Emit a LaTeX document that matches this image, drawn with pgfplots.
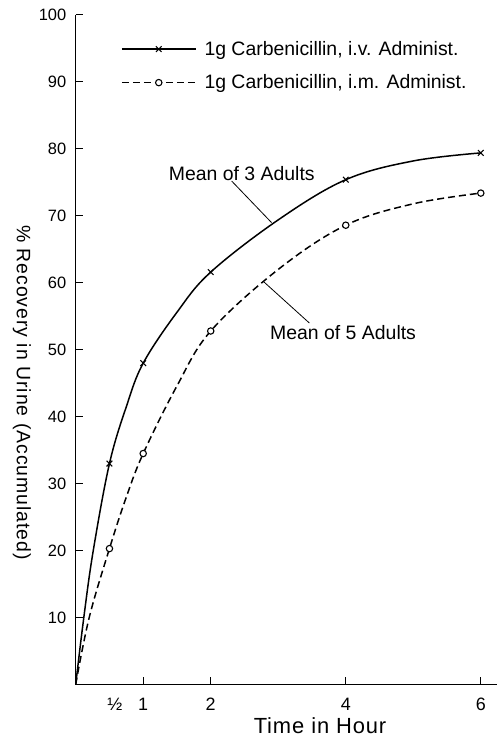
\documentclass[border=0pt]{standalone}
\usepackage{fontspec}
\setmainfont{Liberation Sans}
\usepackage{pgfplots}
\pgfplotsset{compat=1.18}
\begin{document}
\begin{tikzpicture}
\begin{axis}[
  at={(0,0)}, anchor=south west,
  scale only axis,
  width=421.3bp, height=669.5bp,
  xmin=0, xmax=6.24, ymin=0, ymax=100,
  axis x line=bottom, axis y line=left,
  axis line style={-, line width=1.6pt},
  xtick={1,2,4,6},
  extra x ticks={0.58},
  extra x tick labels={½},
  extra x tick style={major tick length=0pt},
  ytick={10,20,...,100},
  tick align=inside,
  major tick length=7bp,
  tick style={line width=1pt, black},
  /pgf/number format/assume math mode=true,
  xticklabel style={font=\fontsize{18}{21}\selectfont, yshift=-10bp},
  yticklabel style={font=\fontsize{16.5}{19}\selectfont, xshift=-6bp},
  xlabel={Time in Hour},
  xlabel style={at={(axis description cs:0.58,-0.062)}, anchor=center, font=\fontsize{22}{26}\selectfont\addfontfeature{LetterSpace=4}},
  ylabel={\% Recovery in Urine (Accumulated)},
  ylabel style={at={(axis description cs:-0.1275,0.436)}, rotate=180, anchor=center, font=\fontsize{19.5}{23}\selectfont\addfontfeature{LetterSpace=5}},
  legend style={at={(axis description cs:0.1,0.967)}, anchor=north west, draw=none, fill=none, font=\fontsize{19.5}{23}\selectfont, row sep=14bp},
  legend cell align=left,
  legend image code/.code={\draw[mark repeat=2,mark phase=2,#1] plot coordinates {(0bp,0bp) (37bp,0bp) (74bp,0bp)};},
]
\addlegendimage{black, line width=1.5pt, mark=x, mark size=4bp, mark options={solid, line width=1.1pt}}
\addlegendentry{\hspace{6bp}1g Carbenicillin, i.v. Administ.}
\addlegendimage{black, line width=1.5pt, dash pattern=on 7bp off 4bp, mark=*, mark size=3.2bp, mark options={solid, fill=white, line width=1.1pt}}
\addlegendentry{\hspace{6bp}1g Carbenicillin, i.m. Administ.}

\addplot[forget plot, black, line width=1.5pt, smooth, tension=0.6, mark=x, mark size=4bp, mark indices={4,6,8,10,12}, mark options={solid, line width=1.1pt}]
  coordinates {(0,0) (0.12,10) (0.26,20) (0.5,33) (0.75,41.5) (1,48) (1.5,55.6) (2,61.6) (3,69.4) (4,75.4) (5,78.2) (6,79.4)};
\addplot[forget plot, black, line width=1.5pt, smooth, tension=0.6, dash pattern=on 7bp off 4bp, mark=*, mark size=3.2bp, mark indices={3,5,7,9,11}, mark options={solid, fill=white, line width=1.1pt}]
  coordinates {(0,0) (0.2,10) (0.5,20.3) (0.75,28) (1,34.5) (1.5,44.6) (2,52.8) (3,62.0) (4,68.6) (5,71.8) (6,73.4)};

\node[font=\fontsize{19.5}{23}\selectfont] at (axis cs:2.46,76.3) {Mean of 3 Adults};
\draw[line width=0.8pt] (axis cs:2.31,75.2) -- (axis cs:2.90,69.0);
\node[font=\fontsize{19.5}{23}\selectfont] at (axis cs:3.96,52.5) {Mean of 5 Adults};
\draw[line width=0.8pt] (axis cs:3.46,54.0) -- (axis cs:2.78,60.2);
\end{axis}
\pgfresetboundingbox
\path[use as bounding box] (-75.7bp,-63.5bp) rectangle (422.3bp,684.5bp);
\end{tikzpicture}
\end{document}
